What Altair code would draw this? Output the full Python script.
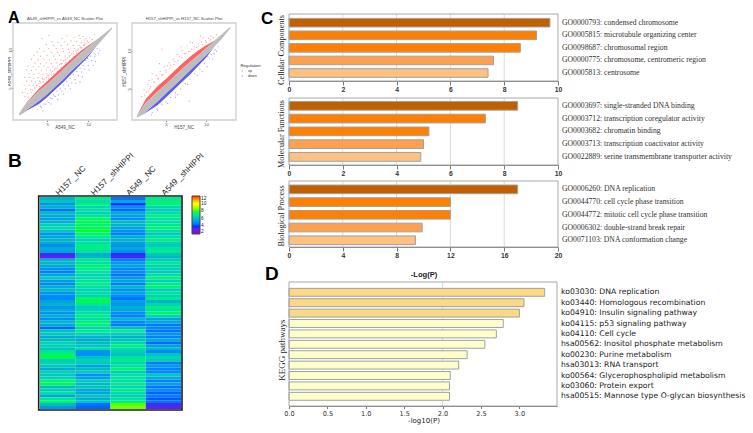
import altair as alt
import pandas as pd

W, H = 737, 417

# ---------- Panel A: scatter plots ----------
a1_band_x   = [1.6, 2.5, 4.0, 5.0, 6.0, 7.0, 8.0, 9.0, 10.0, 11.0, 12.0, 12.9]
a1_grey_lo  = [1.35, 2.1, 3.3, 4.2, 5.2, 6.2, 7.3, 8.3, 9.3, 10.5, 11.7, 12.8]
a1_grey_hi  = [1.7, 3.0, 4.6, 5.5, 6.5, 7.5, 8.5, 9.5, 10.4, 11.3, 12.2, 13.0]
a1_red_hi   = [1.7, 3.1, 4.9, 5.9, 6.9, 7.9, 8.9, 9.8, 10.6, 11.35, 12.2, 13.0]
a1_blue_lo  = [1.35, 2.0, 2.9, 3.8, 4.8, 5.8, 6.9, 8.0, 9.1, 10.5, 11.7, 12.8]

a1_up = [(5.2,11.9),(7.4,11.9),(8.9,11.9),(9.4,11.8),(4.4,11.5),(6.8,11.5),(8.3,11.6),(9.0,11.5),(9.7,11.5),
 (5.6,11.1),(6.3,11.0),(7.1,11.1),(7.9,11.2),(8.6,11.1),(9.2,11.0),(4.9,10.7),(5.8,10.6),(6.7,10.6),(7.5,10.7),
 (8.2,10.6),(8.9,10.6),(9.5,10.7),(4.1,10.2),(5.2,10.2),(6.1,10.2),(6.9,10.2),(7.6,10.1),(8.3,10.2),(8.8,10.1),
 (9.2,10.3),(3.8,9.7),(4.6,9.8),(5.5,9.7),(6.3,9.7),(7.0,9.8),(7.7,9.7),(8.2,9.8),(8.6,9.6),(3.4,9.3),(4.2,9.2),
 (5.0,9.3),(5.8,9.2),(6.5,9.3),(7.2,9.2),(7.8,9.3),(8.2,9.1),(3.1,8.8),(3.9,8.7),(4.6,8.8),(5.3,8.7),(6.0,8.8),
 (6.7,8.7),(7.3,8.8),(7.7,8.7),(3.5,8.3),(4.2,8.2),(4.9,8.3),(5.5,8.2),(6.2,8.3),(6.8,8.2),(7.2,8.3),(2.7,7.9),
 (3.3,7.8),(4.0,7.8),(4.6,7.9),(5.1,7.7),(5.7,7.8),(6.3,7.9),(6.7,7.7),(2.5,7.4),(3.1,7.3),(3.7,7.4),(4.3,7.3),
 (4.9,7.4),(5.4,7.3),(5.9,7.4),(6.3,7.2),(2.8,6.9),(3.4,6.8),(4.0,6.9),(4.5,6.8),(5.0,6.9),(5.5,6.8),(5.8,6.9),
 (2.3,6.4),(2.9,6.4),(3.4,6.3),(3.9,6.4),(4.4,6.3),(4.9,6.4),(5.2,6.2),(2.5,5.9),(3.1,5.9),(3.6,5.8),(4.1,5.9),
 (4.5,5.8),(2.2,5.4),(2.8,5.4),(3.3,5.3),(3.8,5.4),(4.1,5.2),(2.4,4.9),(3.0,4.8),(3.5,4.9),(2.0,4.4),(2.6,4.3),
 (3.1,4.4),(2.3,3.9),(2.7,3.8),(9.6,11.3),(9.9,11.2),(10.2,11.6),(10.5,11.4),(10.8,12.0),
 (3.2,4.7),(3.7,5.3),(4.2,5.7),(4.7,6.2),(5.2,6.7),(5.7,7.2),(6.2,7.6),(6.7,8.2),(7.2,8.6),(7.7,9.1),(8.2,9.5),(8.7,10.0),
 (9.1,10.4),(9.6,10.9),(3.5,5.1),(4.0,5.6),(4.5,6.1),(5.0,6.6),(5.5,7.1),(6.0,7.6),(6.5,8.1),(7.0,8.6),(7.5,9.0),(8.0,9.5),
 (8.5,9.9),(9.0,10.3),(9.5,10.6),(10.0,11.0)]
a1_down = [(3.8,2.2),(4.3,2.4),(4.8,2.9),(5.2,3.1),(5.6,3.6),(6.0,3.9),(6.4,4.1),(6.8,4.6),(7.2,4.9),(7.6,5.3),
 (8.0,5.7),(8.4,6.1),(8.8,6.6),(9.2,7.1),(9.6,7.5),(10.0,8.0),(10.4,8.6),(10.8,9.1),(11.2,9.6),(5.5,2.9),(6.3,3.5),
 (7.0,4.2),(7.8,4.9),(8.5,5.6),(9.3,6.5),(10.1,7.4),(10.6,8.0),(9.0,5.8),(10.9,8.5),(10.9,9.4),(11.4,10.0),(4.5,2.0),
 (9.7,8.6),(9.9,8.9),(10.3,9.2),(10.7,9.6),(11.1,10.2),(9.4,8.0),(9.0,7.6),(8.6,7.2),(8.2,6.8),(7.8,6.3),(7.4,5.9),(7.0,5.4),
 (6.6,4.9),(6.2,4.6),(5.8,4.1),(5.4,3.7),(5.0,3.3),(4.6,2.9),(4.2,2.6)]

a2_band_x  = [1.4, 2.5, 4.0, 5.0, 6.0, 7.0, 8.0, 9.0, 10.0, 11.0, 12.0, 13.0]
a2_grey_lo = [1.25, 2.0, 3.4, 4.4, 5.4, 6.4, 7.4, 8.4, 9.4, 10.5, 11.6, 12.9]
a2_grey_hi = [1.5, 3.2, 4.7, 5.6, 6.6, 7.6, 8.5, 9.4, 10.3, 11.2, 12.2, 13.1]
a2_red_hi  = [1.5, 3.7, 5.4, 6.3, 7.3, 8.3, 9.2, 10.0, 10.7, 11.3, 12.2, 13.1]
a2_blue_lo = [1.25, 1.9, 2.9, 3.9, 4.9, 5.9, 6.9, 8.0, 9.1, 10.5, 11.6, 12.9]

a2_up = [(9.6,11.7),(8.3,11.0),(7.6,10.6),(7.0,10.0),(6.4,9.5),(5.9,8.9),(5.4,8.4),(4.8,7.9),(4.3,7.3),(3.8,6.8),
 (3.3,6.3),(2.8,5.6),(2.3,4.9),(2.0,4.0),(7.8,9.9),(8.5,10.5),(9.0,10.9),(9.4,11.1),(9.9,11.3),(10.3,11.6),(10.6,11.9),
 (6.7,9.2),(6.1,8.6),(5.6,8.1),(5.0,7.4),(4.6,6.9),(4.1,6.4),(3.6,5.9),(3.1,5.3),(2.6,4.6),(3.3,7.0),(4.2,8.3),(2.9,6.1),
 (8.2,10.2),(8.8,10.4),(7.3,9.6),(4.5,10.2),(3.0,5.0),(5.2,8.0),(6.9,10.5),(8.0,11.1),(9.3,11.9),(10.9,11.7),(11.3,12.1),
 (3.5,5.9),(4.0,6.3),(4.5,6.8),(5.0,7.2),(5.5,7.7),(6.0,8.2),(6.5,8.7),(7.0,9.1),(7.5,9.6),(8.0,9.9),(8.5,10.2),(9.0,10.5),
 (9.5,10.8),(10.0,11.1),(10.5,11.4),(2.4,4.2),(2.8,4.7)]
a2_down = [(3.3,1.9),(3.9,2.4),(4.5,3.0),(5.0,3.3),(5.6,3.9),(6.2,4.5),(6.8,5.0),(7.4,5.7),(8.0,6.3),(8.6,7.0),(9.2,7.6),
 (9.8,8.3),(10.4,9.0),(11.0,9.6),(11.5,10.5),(4.0,2.2),(5.2,3.1),(6.5,4.3),(7.7,5.6),(8.9,6.8),(10.1,7.9),(10.8,8.9),
 (11.3,9.9),(9.5,7.3),(3.2,1.6),(7.9,3.4),(6.2,3.9),(9.7,8.8),(10.2,9.2),(10.6,9.5),(11.1,10.1)]

# ---------- Panel B: heatmap ----------
heat_cols = ["H157 _NC", "H157 _shHIPPI", "A549 _NC", "A549 _shHIPPI"]
h157_nc = [5.8,6.2,5.2,5.7,4.6,6.0,5.5,5.3,5.8,6.4,
           6.8,6.2,5.2,5.5,5.9,5.6,5.0,5.6,5.4,3.6,
           3.4,5.7,6.0,5.5,5.0,4.8,5.4,6.3,5.3,4.9,
           5.6,6.0,5.2,5.0,4.9,5.4,5.8,5.1,5.6,5.2,
           5.7,5.0,6.0,5.5,4.5,6.1,6.3,5.6,6.0,6.6,
           6.5,6.2,7.0,7.6,7.8,6.3,6.6,6.3,5.6,6.6,
           6.3,6.5,7.4,7.8,6.0,6.4,6.9,5.5,7.0,7.6,
           6.0,5.2]
h157_sh = [7.2,6.8,7.4,6.7,6.9,6.5,7.0,7.6,7.7,7.4,
           7.8,7.9,7.5,7.2,6.6,6.9,7.2,7.3,7.0,5.6,
           5.9,7.3,6.8,7.5,7.2,7.0,6.6,6.8,7.0,7.3,
           6.9,6.6,6.8,6.5,7.6,7.8,7.0,6.4,6.6,7.0,
           7.2,6.8,7.5,7.4,6.5,7.3,6.5,5.8,5.6,6.0,
           6.2,6.7,5.2,5.0,6.2,6.5,6.4,5.4,6.0,6.3,
           5.0,5.3,6.3,6.0,6.2,5.6,5.4,6.2,5.6,6.2,
           4.6,4.4]
a549_nc = [4.6,5.5,4.0,5.0,4.5,5.6,5.3,5.0,6.0,5.8,
           5.4,5.1,4.8,5.6,5.9,5.4,5.2,5.6,5.0,3.8,
           3.7,4.8,5.3,5.4,4.9,5.0,4.6,5.2,5.4,4.8,
           5.8,5.1,5.5,5.0,4.6,5.4,5.2,5.6,5.4,5.0,
           4.8,5.8,5.0,4.6,6.0,7.2,6.4,5.8,6.2,6.6,
           7.4,6.8,6.5,6.2,7.0,7.2,6.6,7.0,7.5,6.4,
           6.9,7.0,6.8,7.2,6.6,7.4,6.8,6.4,7.0,7.2,
           8.2,8.4]
a549_sh = [7.2,7.4,7.5,6.6,6.4,6.8,7.4,7.0,6.8,7.1,
           7.5,6.9,6.3,6.8,7.4,6.6,6.3,7.0,7.2,6.2,
           5.9,6.4,7.2,6.6,6.5,6.3,6.8,7.4,6.5,7.1,
           7.5,6.4,6.9,6.6,7.2,5.8,6.6,7.3,7.0,7.5,
           6.6,5.4,5.6,4.7,4.9,4.6,5.2,4.8,5.6,4.5,
           5.3,5.8,4.9,6.2,6.6,6.4,4.6,5.3,4.8,5.0,
           6.3,5.6,4.8,5.4,4.6,5.0,4.4,4.8,4.3,4.6,
           3.6,3.4]
heat_domain = [2, 4, 6, 8, 10, 12]
heat_range = ["#9000e0", "#0030ff", "#00bcc0", "#30ff10", "#ffff00", "#ff2000"]

# ---------- Panel C: GO enrichment ----------
cc_labels = ["GO0000793: condensed chromosome", "GO0005815: microtubule organizing center", "GO0098687: chromosomal region",
             "GO0000775: chromosome, centromeric region", "GO0005813: centrosome"]
cc_vals = [9.7, 9.2, 8.6, 7.6, 7.4]
mf_labels = ["GO0003697: single-stranded DNA binding", "GO0003712: transcription coregulator activity", "GO0003682: chromatin binding",
             "GO0003713: transcription coactivator activity", "GO0022889: serine transmembrane transporter activity"]
mf_vals = [8.5, 7.3, 5.2, 5.0, 4.9]
bp_labels = ["GO0006260: DNA replication", "GO0044770: cell cycle phase transition", "GO0044772: mitotic cell cycle phase transition",
             "GO0006302: double-strand break repair", "GO0071103: DNA conformation change"]
bp_vals = [17, 12, 12, 9.9, 9.4]
go_colors = ["#c06000", "#ff8000", "#ff8000", "#ffa04f", "#ffc080"]

# ---------- Panel D: KEGG ----------
kegg_labels = ["ko03030: DNA replication", "ko03440: Homologous recombination", "ko04910: Insulin signaling pathway",
               "ko04115: p53 signaling pathway", "ko04110: Cell cycle", "hsa00562: Inositol phosphate metabolism",
               "ko00230: Purine metabolism", "hsa03013: RNA transport", "ko00564: Glycerophospholipid metabolism",
               "ko03060: Protein export", "hsa00515: Mannose type O-glycan biosynthesis"]
kegg_vals = [3.33, 3.06, 3.0, 2.79, 2.7, 2.55, 2.32, 2.21, 2.1, 2.09, 2.09]
kegg_colors = ["#fdd985"] * 3 + ["#ffffcc"] * 8

SERIF = "Liberation Serif"
SANS = "Liberation Sans"
DEJA = "DejaVu Sans"
ONE = pd.DataFrame({"a": [0]})


def px(v):
    return v - 8


def frame(x0, x1, y0, y1, stroke, width):
    return alt.Chart(ONE).mark_rect(fill="transparent", stroke=stroke, strokeWidth=width).encode(
        x=alt.value(px(x0)), x2=alt.value(px(x1)), y=alt.value(px(y0)), y2=alt.value(px(y1)))


def label(text, x, y, size, font=SANS, weight="normal", angle=0, align="center", color="#222222", baseline="middle"):
    return alt.Chart(ONE).mark_text(text=text, font=font, fontSize=size, fontWeight=weight, angle=angle,
                                    align=align, baseline=baseline, color=color).encode(
        x=alt.value(px(x)), y=alt.value(px(y)))


def scatter(band_x, lo, hi, red, blue, up, down, xd, yd, xr, yr, xt, yt, title, xname, yname, legend):
    xs = alt.Scale(domain=xd, range=[px(xr[0]), px(xr[1])], nice=False)
    ys = alt.Scale(domain=yd, range=[px(yr[0]), px(yr[1])], nice=False)
    axis_x = alt.Axis(orient="bottom", offset=px(yr[0]) - H, values=xt, format="d", title=None, domain=False, grid=False,
                      labelFontSize=4.2, labelColor="#555555", tickSize=1.5, tickColor="#888888", labelPadding=0.5, labelFont=SANS)
    axis_y = alt.Axis(orient="left", offset=-px(xr[0]), values=yt, format="d", title=None, domain=False, grid=False,
                      labelFontSize=4.2, labelColor="#555555", tickSize=1.5, tickColor="#888888", labelPadding=-1, labelFont=SANS, labelAngle=270, labelAlign="center", labelBaseline="bottom")
    band = pd.DataFrame({"x": band_x, "lo": lo, "hi": hi, "red": red, "blue": blue})
    pts = pd.DataFrame([{"x": p[0], "y": p[1], "Regulation": "up"} for p in up] +
                       [{"x": p[0], "y": p[1], "Regulation": "down"} for p in down])
    X = alt.X("x:Q", scale=xs, axis=None)
    color_legend = alt.Legend(orient="none", legendX=px(240.5), legendY=px(64), title="Regulation", titleFontSize=4.2,
                              titleFontWeight="normal", labelFontSize=3.6, symbolSize=2, titlePadding=1,
                              rowPadding=0, symbolType="circle", labelColor="#333333", titleColor="#333333") if legend else None
    layers = [
        alt.Chart(pts).mark_circle(size=1.4, opacity=0.5).encode(
            x=alt.X("x:Q", scale=xs, axis=axis_x), y=alt.Y("y:Q", scale=ys, axis=axis_y),
            color=alt.Color("Regulation:N", scale=alt.Scale(domain=["up", "down"], range=["#ff3030", "#3030ff"]), legend=color_legend)),
        alt.Chart(band).mark_area(color="#ff2020", opacity=0.7).encode(
            x=X, y=alt.Y("hi:Q", scale=ys, axis=None), y2="red:Q"),
        alt.Chart(band).mark_area(color="#1818f0", opacity=0.7).encode(
            x=X, y=alt.Y("lo:Q", scale=ys, axis=None), y2="blue:Q"),
        alt.Chart(band).mark_area(color="#bdbdbd").encode(
            x=X, y=alt.Y("lo:Q", scale=ys, axis=None), y2="hi:Q"),
        frame(xr[0], xr[1], yr[0], yr[1], "#cfcfcf", 1.3),
        label(title, (xr[0] + xr[1]) / 2, yr[1] - 4, 4.2, color="#444444"),
        label(xname, (xr[0] + xr[1]) / 2, yr[0] + 7.5, 4.5, color="#444444"),
        label(yname, 10 if xr[0] < 50 else xr[0] - 7, (yr[0] + yr[1]) / 2, 4.5, angle=270, color="#444444"),
    ]
    return layers


def hbars(labels, vals, colors, xd, xt, xr, yr, band, frame_y, font, lsize, grid, lcolor, padding, xfont, xsize, xweight, fmt, tick_len):
    xs = alt.Scale(domain=xd, range=[px(xr[0]), px(xr[1])], nice=False)
    ys = alt.Scale(domain=labels, range=[px(band[0]), px(band[1])], paddingInner=padding, paddingOuter=padding / 2)
    df = pd.DataFrame({"label": labels, "v": vals, "c": colors})
    axis_x = alt.Axis(orient="bottom", offset=px(frame_y[1]) - H, values=xt, format=fmt, title=None, grid=False,
                      labelFont=xfont, labelFontSize=xsize, labelFontWeight=xweight, labelColor="#333333",
                      tickSize=tick_len, tickColor="#777777", domainColor="#777777", labelPadding=1.5, labelFlush=False)
    axis_y = alt.Axis(orient="right", offset=px(xr[1]) - W, title=None, domain=False, ticks=False, grid=False,
                      labelFont=font, labelFontSize=lsize, labelColor=lcolor, labelLimit=400, labelPadding=3.5)
    layers = [
        alt.Chart(pd.DataFrame({"g": grid})).mark_rule(color="#d9d9d9", strokeWidth=1).encode(
            x=alt.X("g:Q", scale=xs, axis=None), y=alt.value(px(frame_y[0])), y2=alt.value(px(frame_y[1]))),
        alt.Chart(df).mark_bar(stroke="#a0a0a0", strokeWidth=1).encode(
            x=alt.X("v:Q", scale=xs, axis=axis_x),
            y=alt.Y("label:N", sort=None, scale=ys, axis=axis_y),
            color=alt.Color("c:N", scale=None)),
        frame(xr[0], xr[1], frame_y[0], frame_y[1], "#a8a8a8", 1),
    ]
    return layers


layers = []

# Panel A
layers += scatter(a1_band_x, a1_grey_lo, a1_grey_hi, a1_red_hi, a1_blue_lo, a1_up, a1_down,
                  [0.85, 13.5], [0.8, 13.55], (13, 117), (120, 23), [5, 10], [5, 10],
                  "A549_shHIPPI_vs A549_NC Scatter Plot", "A549_NC", "A549_shHIPPI", False)
layers += scatter(a2_band_x, a2_grey_lo, a2_grey_hi, a2_red_hi, a2_blue_lo, a2_up, a2_down,
                  [0.8, 13.7], [0.95, 13.6], (132, 236), (120, 23), [5, 10], [5, 10],
                  "H157_shHIPPI_vs H157_NC Scatter Plot", "H157_NC", "H157_shHIPPI", True)

# Panel B
heat = pd.DataFrame([{"col": c, "row": i, "v": v}
                     for c, series in zip(heat_cols, [h157_nc, h157_sh, a549_nc, a549_sh])
                     for i, v in enumerate(series)])
heat_x = alt.Scale(domain=heat_cols, range=[px(40), px(181)], paddingInner=0, paddingOuter=0)
heat_y = alt.Scale(domain=list(range(len(h157_nc))), range=[px(197), px(409)], paddingInner=0, paddingOuter=0)
layers.append(
    alt.Chart(heat).mark_rect().encode(
        x=alt.X("col:N", sort=None, scale=heat_x,
                axis=alt.Axis(orient="top", offset=-px(196), title=None, domain=False, ticks=False, grid=False,
                              labelAngle=315, labelAlign="left", labelBaseline="middle", labelFont=SANS, labelFontSize=8.2,
                              labelColor="#222222", labelPadding=2, labelLimit=200)),
        y=alt.Y("row:O", scale=heat_y, axis=None),
        color=alt.Color("v:Q", scale=alt.Scale(domain=heat_domain, range=heat_range, clamp=True),
                        legend=alt.Legend(orient="none", legendX=px(192), legendY=px(196), title=None, gradientLength=38,
                                          gradientThickness=8, values=[2, 4, 6, 8, 10, 12], labelFontSize=4.8, labelFont=SANS,
                                          labelOverlap=False, labelOffset=1, gradientStrokeColor="#444444", gradientStrokeWidth=1,
                                          direction="vertical", labelColor="#222222"))))
layers.append(frame(38.7, 182, 196, 410, "#1c1c1c", 1.6))

# Panel C
layers += hbars(cc_labels, cc_vals, go_colors, [0, 10], [0, 2, 4, 6, 8, 10], (289, 558), (81, 14), (16.4, 79.3), (14, 81),
                SERIF, 7.7, [2, 4, 6, 8], "#333333", 0.32, SANS, 6.8, "bold", "d", 4)
layers += hbars(mf_labels, mf_vals, go_colors, [0, 10], [0, 2, 4, 6, 8, 10], (289, 558), (165, 98), (99.4, 163.3), (98, 165),
                SERIF, 7.7, [2, 4, 6, 8], "#333333", 0.32, SANS, 6.8, "bold", "d", 4)
layers += hbars(bp_labels, bp_vals, go_colors, [0, 20], [0, 4, 8, 12, 16, 20], (289, 558), (247, 181), (183, 246.6), (181, 247),
                SERIF, 7.7, [4, 8, 12, 16], "#333333", 0.32, SANS, 6.8, "bold", "d", 4)

# Panel D
layers += hbars(kegg_labels, kegg_vals, kegg_colors, [0, 3.49], [0, 0.5, 1, 1.5, 2, 2.5, 3], (289, 557), (406, 282), (287.1, 401.5), (282, 406),
                DEJA, 7.7, [2], "#222222", 0.24, DEJA, 6.6, "normal", ".1f", 2.5)

# Titles and panel letters
layers += [
    label("Cellular Components", 282, 50, 8.2, font=SERIF, angle=270),
    label("Molecular Functions", 282, 134, 8.2, font=SERIF, angle=270),
    label("Biological Process", 282, 216, 8.2, font=SERIF, angle=270),
    label("KEGG pathways", 282, 350, 9, font=SERIF, angle=270),
    label("-Log(P)", 424, 275, 7.6, weight="bold"),
    label("-log10(P)", 424, 421, 7, font=DEJA),
    label("A", 8, 23, 16, font=SANS, weight="bold", align="left", color="#000000", baseline="alphabetic"),
    label("B", 8, 167, 19, font=SANS, weight="bold", align="left", color="#000000", baseline="alphabetic"),
    label("C", 261, 24, 17, font=SANS, weight="bold", align="left", color="#000000", baseline="alphabetic"),
    label("D", 265, 280, 19, font=SANS, weight="bold", align="left", color="#000000", baseline="alphabetic"),
]

chart = alt.layer(*layers).resolve_scale(x="independent", y="independent", color="independent").properties(
    width=W, height=H, padding=0, autosize=alt.AutoSizeParams(type="none"),
).configure_view(stroke=None)

chart.save("out.html", embed_options={"renderer": "svg", "actions": False})
